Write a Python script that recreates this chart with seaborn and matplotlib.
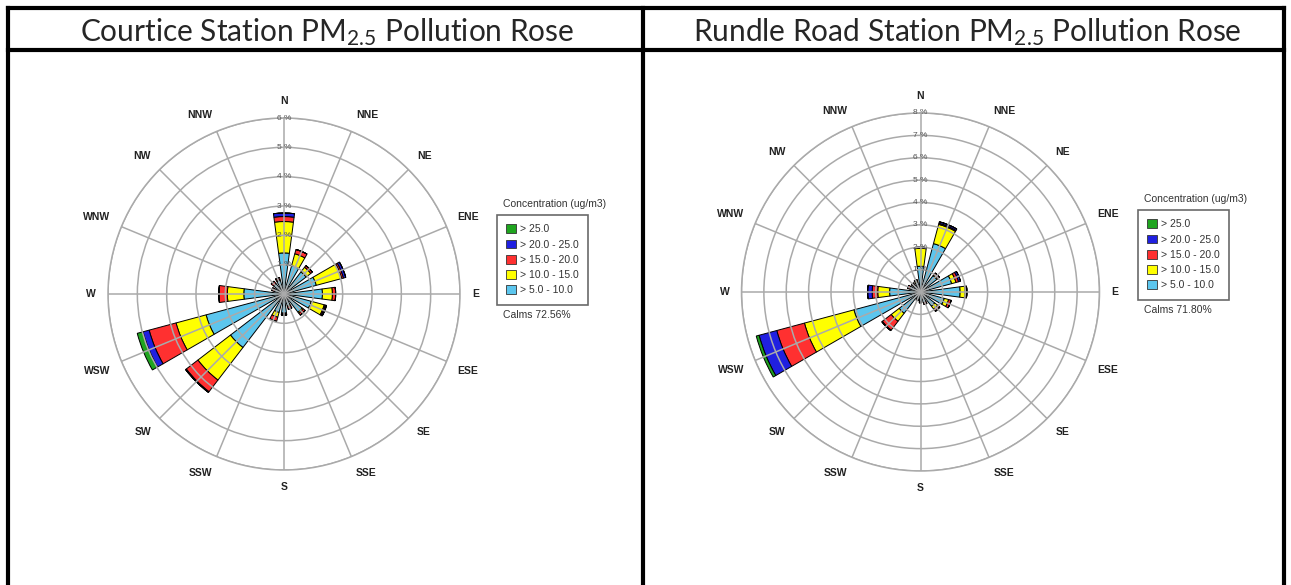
import matplotlib
matplotlib.use('Agg')
import matplotlib.pyplot as plt
from matplotlib.lines import Line2D
from matplotlib.patches import Patch
import numpy as np
import seaborn as sns

directions = ['N', 'NNE', 'NE', 'ENE', 'E', 'ESE', 'SE', 'SSE',
              'S', 'SSW', 'SW', 'WSW', 'W', 'WNW', 'NW', 'NNW']
classes = ['> 5.0 - 10.0', '> 10.0 - 15.0', '> 15.0 - 20.0', '> 20.0 - 25.0', '> 25.0']
colors = ['#5cc6ee', '#ffff00', '#ff3030', '#2020e0', '#1fa51f']

# percent of time, per direction, per concentration class
courtice_5_10 = [1.40, 1.00, 0.95, 1.14, 1.31, 0.96, 0.78, 0.42, 0.65, 0.65, 2.30, 2.75, 1.37, 0.35, 0.45, 0.48]
courtice_10_15 = [1.07, 0.42, 0.20, 0.90, 0.34, 0.46, 0.05, 0.04, 0.03, 0.17, 1.40, 1.06, 0.56, 0.00, 0.00, 0.03]
courtice_15_20 = [0.17, 0.15, 0.07, 0.06, 0.11, 0.04, 0.08, 0.08, 0.04, 0.15, 0.50, 0.95, 0.29, 0.08, 0.10, 0.07]
courtice_20_25 = [0.12, 0.00, 0.00, 0.08, 0.00, 0.04, 0.00, 0.00, 0.00, 0.00, 0.03, 0.22, 0.00, 0.00, 0.00, 0.00]
courtice_25 = [0.00, 0.00, 0.00, 0.00, 0.00, 0.00, 0.00, 0.00, 0.00, 0.00, 0.00, 0.20, 0.00, 0.00, 0.00, 0.00]

rundle_5_10 = [1.15, 2.24, 0.92, 1.44, 1.77, 1.10, 0.80, 0.50, 0.42, 0.35, 1.20, 3.08, 1.38, 0.50, 0.40, 0.45]
rundle_10_15 = [0.80, 0.89, 0.05, 0.20, 0.23, 0.20, 0.17, 0.00, 0.00, 0.00, 0.45, 2.29, 0.53, 0.00, 0.05, 0.07]
rundle_15_20 = [0.05, 0.05, 0.10, 0.12, 0.07, 0.12, 0.12, 0.08, 0.06, 0.05, 0.50, 1.28, 0.25, 0.10, 0.06, 0.05]
rundle_20_25 = [0.00, 0.07, 0.00, 0.09, 0.00, 0.00, 0.00, 0.00, 0.00, 0.00, 0.03, 0.82, 0.20, 0.00, 0.00, 0.00]
rundle_25 = [0.00, 0.00, 0.00, 0.00, 0.00, 0.00, 0.00, 0.00, 0.00, 0.00, 0.00, 0.13, 0.00, 0.00, 0.00, 0.00]

titles = ['Courtice Station PM$_{2.5}$ Pollution Rose', 'Rundle Road Station PM$_{2.5}$ Pollution Rose']
calms = ['Calms 72.56%', 'Calms 71.80%']
rmax = [6, 8]

sns.set_theme(style='white')
plt.rcParams['font.family'] = ['Liberation Sans', 'DejaVu Sans']
plt.rcParams['mathtext.default'] = 'regular'

W, H = 1291, 585
fig = plt.figure(figsize=(W / 100, H / 100), dpi=100)


def fx(px):
    return px / W


def fy(py):
    return 1 - py / H


# table frame
for x0, y0, x1, y1 in [(8, 8, 1284, 8), (8, 50, 1284, 50), (8, 8, 8, 585),
                       (643, 8, 643, 585), (1284, 8, 1284, 585)]:
    fig.add_artist(Line2D([fx(x0), fx(x1)], [fy(y0), fy(y1)], color='black',
                          lw=3, solid_capstyle='projecting'))

fig.text(fx(327), fy(32), titles[0], ha='center', va='center', fontsize=21.5, family='Lato')
fig.text(fx(967), fy(32), titles[1], ha='center', va='center', fontsize=21.5, family='Lato')

theta = np.deg2rad(np.arange(len(directions)) * 22.5)
data = [[courtice_5_10, courtice_10_15, courtice_15_20, courtice_20_25, courtice_25],
        [rundle_5_10, rundle_10_15, rundle_15_20, rundle_20_25, rundle_25]]

centers = [(284, 294, 176), (920.5, 292, 179)]
legend_pos = [(497, 215), (1138, 210)]

for i in range(2):
    cx, cy, r = centers[i]
    ax = fig.add_axes([fx(cx - r), fy(cy + r), 2 * r / W, 2 * r / H], projection='polar')
    ax.set_theta_zero_location('N')
    ax.set_theta_direction(-1)
    bottom = np.zeros(len(directions))
    for vals, c in zip(data[i], colors):
        vals = np.array(vals)
        ax.bar(theta, vals, width=np.deg2rad(15), bottom=bottom, color=c,
               edgecolor='black', linewidth=0.7)
        bottom += vals
    ax.set_ylim(0, rmax[i])
    ax.set_axisbelow(False)
    ax.grid(True, color='#aaaaaa', lw=1.1)
    ax.set_xticks(theta)
    ax.set_xticklabels([])
    # compass labels: outer edge of text kept a fixed gap from the circle
    for t, name in zip(theta, directions):
        s, c = np.sin(t), np.cos(t)
        ha = 'center' if abs(s) < 0.1 else ('left' if s > 0 else 'right')
        va = 'center' if abs(c) < 0.1 else ('bottom' if c > 0 else 'top')
        ax.annotate(name, xy=(t, rmax[i]), xytext=(12 * s, 12 * c),
                    textcoords='offset pixels', ha=ha, va=va, fontsize=7.5,
                    fontweight='bold', color='#222222', annotation_clip=False)
    ax.set_rgrids(np.arange(1, rmax[i] + 1), labels=[f'{v} %' for v in range(1, rmax[i] + 1)],
                  angle=0, fontsize=6, color='#555555')
    for t in ax.get_yticklabels():
        t.set_ha('center')
        t.set_va('center')
    ax.spines['polar'].set_color('#aaaaaa')
    ax.spines['polar'].set_linewidth(1.1)

    lx, ly = legend_pos[i]
    handles = [Patch(facecolor=c, edgecolor='#333333', lw=0.6) for c in colors[::-1]]
    leg = fig.legend(handles, classes[::-1], loc='upper left',
                     bbox_to_anchor=(fx(lx), fy(ly)), fontsize=7.5, frameon=True,
                     fancybox=False, edgecolor='#444444', handlelength=0.9,
                     handleheight=0.9, handletextpad=0.4, labelspacing=0.5,
                     borderpad=0.9, borderaxespad=0)
    leg.get_frame().set_linewidth(1.2)
    for t in leg.get_texts():
        t.set_color('#333333')
    fig.text(fx(lx + 6), fy(ly - 11), 'Concentration (ug/m3)', fontsize=7.5,
             color='#333333', va='center')
    fig.text(fx(lx + 6), fy(ly + 100), calms[i], fontsize=7.5, color='#333333', va='center')

fig.savefig('out.png', dpi=100, facecolor='white')
